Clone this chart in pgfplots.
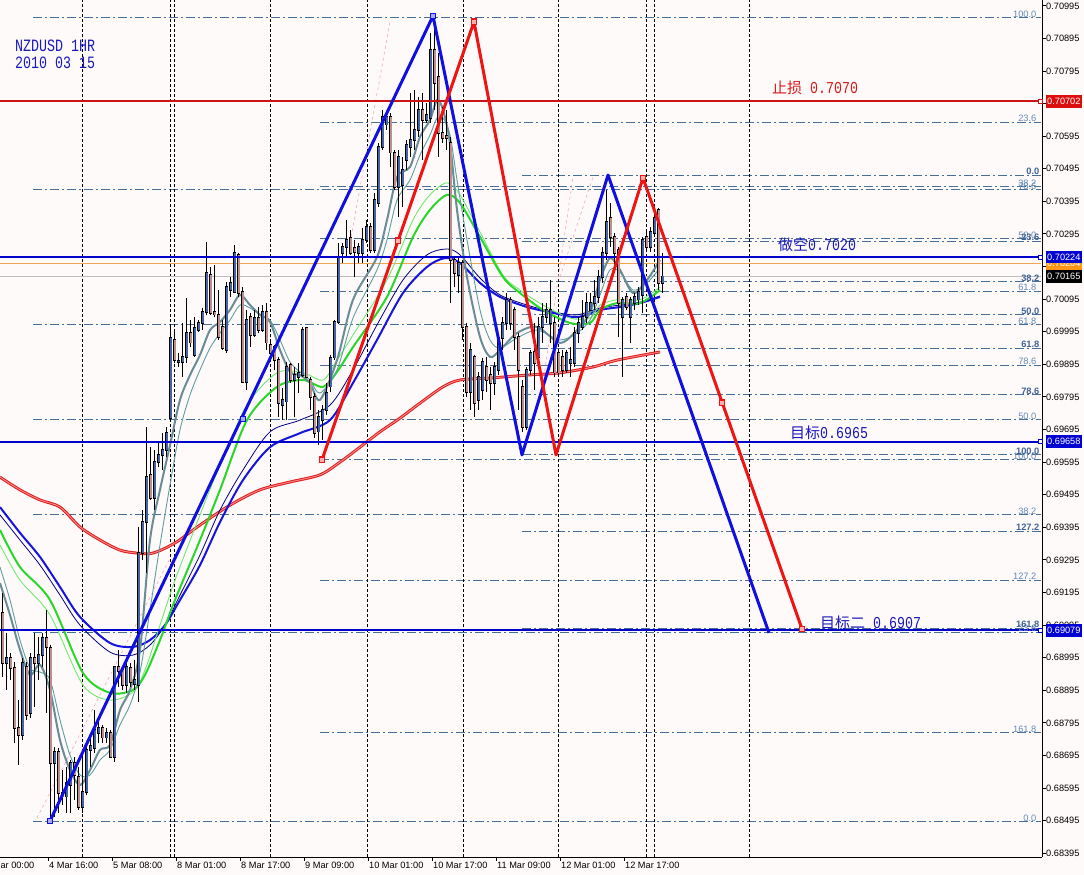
\documentclass[border=0pt]{standalone}
\usepackage{pgfplots}
\pgfplotsset{compat=1.18}
\usepackage{pgfplotstable}
\usepackage{graphicx}
\usepackage{fontspec}
\setmainfont{Liberation Sans}
\newfontfamily\cjk{Noto Sans CJK SC}
\newfontfamily\mono{Liberation Mono}

\definecolor{bgc}{RGB}{255,250,250}
\definecolor{bullc}{RGB}{70,100,160}
\definecolor{bearc}{RGB}{188,143,143}
\definecolor{hred}{RGB}{205,20,20}
\definecolor{hblue}{RGB}{0,0,205}
\definecolor{zzred}{RGB}{238,20,20}
\definecolor{zzblue}{RGB}{15,15,225}
\definecolor{mared}{RGB}{220,30,30}
\definecolor{mablue}{RGB}{20,20,220}
\definecolor{manavy}{RGB}{0,0,128}
\definecolor{magreen}{RGB}{40,215,40}
\definecolor{magreenl}{RGB}{110,235,110}
\definecolor{magray}{RGB}{105,140,150}
\definecolor{magrayl}{RGB}{95,158,160}
\definecolor{fibc}{RGB}{70,110,150}
\definecolor{fibthin}{RGB}{100,138,180}
\definecolor{fibbold}{RGB}{65,100,150}
\definecolor{orangel}{RGB}{240,165,80}
\definecolor{grayl}{RGB}{190,190,190}
\definecolor{boxred}{RGB}{220,15,15}
\definecolor{boxblue}{RGB}{0,0,210}
\definecolor{boxorange}{RGB}{255,150,20}
\definecolor{txtblue}{RGB}{25,25,190}
\definecolor{txtred}{RGB}{215,25,25}
\definecolor{pinkc}{RGB}{240,170,180}

% bullish candles: x open high low close
\pgfplotstableread{
x o h l c
6.7 0.68979 0.69071 0.68896 0.68994
22.7 0.68758 0.68994 0.68742 0.68979
30.7 0.68825 0.69009 0.68810 0.68994
38.7 0.68979 0.69058 0.68927 0.69003
42.7 0.69003 0.69071 0.68966 0.69055
54.7 0.68672 0.68721 0.68506 0.68706
66.7 0.68568 0.68660 0.68518 0.68610
70.7 0.68604 0.68681 0.68518 0.68672
82.7 0.68537 0.68712 0.68518 0.68583
86.7 0.68583 0.68721 0.68574 0.68712
90.7 0.68712 0.68764 0.68660 0.68724
94.7 0.68718 0.68834 0.68703 0.68773
98.7 0.68764 0.68804 0.68733 0.68779
106.7 0.68749 0.68779 0.68733 0.68764
114.7 0.68690 0.68966 0.68675 0.68966
126.7 0.68911 0.68988 0.68887 0.68966
134.7 0.68914 0.68988 0.68896 0.68927
138.7 0.68911 0.69396 0.68859 0.69316
142.7 0.69316 0.69448 0.69295 0.69411
146.7 0.69411 0.69703 0.69255 0.69549
154.7 0.69485 0.69632 0.69448 0.69595
158.7 0.69595 0.69654 0.69580 0.69617
162.7 0.69617 0.69684 0.69571 0.69632
166.7 0.69632 0.69703 0.69611 0.69684
170.7 0.69730 0.70010 0.69724 0.69976
178.7 0.69902 0.69930 0.69887 0.69905
182.7 0.69902 0.70022 0.69856 0.69918
186.7 0.69918 0.70099 0.69899 0.69991
194.7 0.69924 0.70040 0.69918 0.70007
198.7 0.70000 0.70031 0.69994 0.70022
202.7 0.70022 0.70068 0.70000 0.70056
206.7 0.70056 0.70271 0.70047 0.70175
226.7 0.69939 0.70148 0.69930 0.70132
230.7 0.70123 0.70163 0.70102 0.70145
234.7 0.70117 0.70261 0.70114 0.70237
246.7 0.69841 0.70062 0.69816 0.70031
254.7 0.69985 0.70062 0.69979 0.70037
262.7 0.70000 0.70077 0.69994 0.70056
282.7 0.69770 0.69823 0.69724 0.69786
286.7 0.69780 0.69902 0.69724 0.69887
294.7 0.69847 0.69887 0.69734 0.69862
298.7 0.69856 0.69899 0.69807 0.69869
302.7 0.69862 0.70010 0.69856 0.70000
318.7 0.69688 0.69755 0.69648 0.69734
322.7 0.69724 0.69770 0.69663 0.69755
326.7 0.69755 0.69838 0.69740 0.69807
330.7 0.69826 0.69924 0.69810 0.69915
334.7 0.69915 0.70031 0.69908 0.70025
338.7 0.70025 0.70267 0.70019 0.70224
342.7 0.70237 0.70267 0.70206 0.70255
346.7 0.70255 0.70338 0.70224 0.70277
358.7 0.70237 0.70267 0.70206 0.70255
362.7 0.70237 0.70313 0.70206 0.70277
366.7 0.70277 0.70338 0.70267 0.70316
374.7 0.70246 0.70421 0.70237 0.70399
378.7 0.70390 0.70574 0.70378 0.70562
382.7 0.70562 0.70676 0.70553 0.70654
386.7 0.70630 0.70666 0.70614 0.70654
398.7 0.70439 0.70553 0.70347 0.70531
402.7 0.70445 0.70531 0.70378 0.70491
406.7 0.70522 0.70583 0.70491 0.70568
410.7 0.70562 0.70728 0.70531 0.70583
414.7 0.70583 0.70737 0.70553 0.70614
418.7 0.70614 0.70715 0.70593 0.70676
426.7 0.70645 0.70697 0.70636 0.70660
430.7 0.70651 0.70912 0.70636 0.70860
458.7 0.70169 0.70221 0.70114 0.70206
470.7 0.69810 0.69961 0.69755 0.69939
478.7 0.69786 0.69872 0.69755 0.69856
482.7 0.69816 0.69915 0.69786 0.69902
494.7 0.69838 0.69902 0.69801 0.69887
498.7 0.69878 0.69991 0.69862 0.69976
502.7 0.69976 0.70040 0.69939 0.70022
506.7 0.70022 0.70114 0.70000 0.70093
526.7 0.69703 0.69887 0.69694 0.69878
530.7 0.69878 0.69939 0.69862 0.69930
538.7 0.69918 0.70040 0.69908 0.70010
542.7 0.70010 0.70083 0.69961 0.70040
546.7 0.70040 0.70083 0.70022 0.70062
550.7 0.70022 0.70154 0.69961 0.70062
566.7 0.69878 0.69939 0.69869 0.69930
570.7 0.69899 0.69948 0.69856 0.69908
574.7 0.69899 0.70010 0.69887 0.69991
578.7 0.69991 0.70040 0.69961 0.70022
582.7 0.70010 0.70093 0.70000 0.70040
586.7 0.70040 0.70114 0.70022 0.70083
590.7 0.70062 0.70114 0.70062 0.70083
594.7 0.70083 0.70154 0.70062 0.70102
598.7 0.70102 0.70185 0.70083 0.70163
602.7 0.70163 0.70255 0.70145 0.70237
606.7 0.70237 0.70430 0.70215 0.70332
622.7 0.70040 0.70102 0.69856 0.70093
630.7 0.70040 0.70102 0.69961 0.70093
634.7 0.70083 0.70114 0.70062 0.70102
638.7 0.70093 0.70132 0.70077 0.70117
642.7 0.70108 0.70286 0.70053 0.70277
650.7 0.70255 0.70316 0.70240 0.70301
654.7 0.70298 0.70378 0.70286 0.70344
662.7 0.70145 0.70237 0.70114 0.70165
}\bull

% bearish candles: x open high low close
\pgfplotstableread{
x o h l c
2.7 0.69132 0.69193 0.68936 0.68979
10.7 0.68994 0.69009 0.68927 0.68963
14.7 0.68963 0.68982 0.68733 0.68779
18.7 0.68779 0.68865 0.68666 0.68758
26.7 0.68966 0.68982 0.68804 0.68819
34.7 0.68994 0.69071 0.68844 0.68979
46.7 0.69055 0.69141 0.68825 0.69028
50.7 0.69025 0.69034 0.68491 0.68672
58.7 0.68706 0.68718 0.68518 0.68580
62.7 0.68580 0.68650 0.68543 0.68568
74.7 0.68672 0.68690 0.68558 0.68635
78.7 0.68629 0.68660 0.68528 0.68537
102.7 0.68779 0.68789 0.68733 0.68749
110.7 0.68764 0.68773 0.68687 0.68690
118.7 0.68966 0.69019 0.68905 0.68954
122.7 0.68957 0.68966 0.68896 0.68911
130.7 0.68963 0.68979 0.68905 0.68920
150.7 0.69556 0.69641 0.69479 0.69485
174.7 0.69970 0.70000 0.69899 0.69908
190.7 0.69991 0.70031 0.69948 0.69961
210.7 0.70169 0.70194 0.70047 0.70053
214.7 0.70056 0.70200 0.70040 0.70047
218.7 0.70047 0.70123 0.69970 0.69979
222.7 0.70010 0.70031 0.69939 0.69945
238.7 0.70231 0.70237 0.70102 0.70114
242.7 0.70117 0.70132 0.69838 0.69841
250.7 0.70040 0.70053 0.69948 0.69985
258.7 0.70037 0.70071 0.69991 0.70000
266.7 0.70056 0.70083 0.69939 0.69961
270.7 0.69954 0.69970 0.69918 0.69930
274.7 0.69948 0.69954 0.69878 0.69908
278.7 0.69908 0.69918 0.69734 0.69776
290.7 0.69893 0.69899 0.69838 0.69847
306.7 0.70007 0.70010 0.69853 0.69856
310.7 0.69847 0.69856 0.69755 0.69795
314.7 0.69795 0.69807 0.69669 0.69684
350.7 0.70283 0.70307 0.70231 0.70237
354.7 0.70252 0.70277 0.70163 0.70240
370.7 0.70316 0.70329 0.70237 0.70246
390.7 0.70654 0.70666 0.70501 0.70544
394.7 0.70544 0.70553 0.70430 0.70439
422.7 0.70676 0.70728 0.70522 0.70645
434.7 0.70860 0.70964 0.70676 0.70758
438.7 0.70777 0.70850 0.70531 0.70605
442.7 0.70605 0.70685 0.70574 0.70590
446.7 0.70596 0.70676 0.70553 0.70590
450.7 0.70574 0.70593 0.70083 0.70215
454.7 0.70215 0.70224 0.70132 0.70175
462.7 0.70206 0.70215 0.69970 0.70010
466.7 0.70010 0.70022 0.69795 0.69810
474.7 0.69918 0.69924 0.69734 0.69776
486.7 0.69887 0.69918 0.69810 0.69847
490.7 0.69862 0.69887 0.69755 0.69838
510.7 0.70093 0.70102 0.70000 0.70022
514.7 0.70062 0.70071 0.69939 0.69979
518.7 0.69979 0.69991 0.69755 0.69878
522.7 0.69826 0.69847 0.69688 0.69703
534.7 0.69933 0.70022 0.69816 0.69899
554.7 0.70022 0.70040 0.69856 0.69869
558.7 0.69930 0.69939 0.69862 0.69869
562.7 0.69918 0.69939 0.69856 0.69878
610.7 0.70344 0.70390 0.70255 0.70286
614.7 0.70286 0.70298 0.70194 0.70237
618.7 0.70246 0.70255 0.69979 0.70083
626.7 0.70102 0.70114 0.70062 0.70071
646.7 0.70286 0.70307 0.70246 0.70255
658.7 0.70369 0.70375 0.70123 0.70145
}\bear

\newcommand\tickfont{\fontsize{9.2bp}{11bp}\selectfont}
\newcommand\fibfont{\fontsize{9.3bp}{11bp}\selectfont}
\tikzset{fibstyle/.style={draw=fibc, line width=1bp, dash pattern=on 9bp off 3bp on 2bp off 3bp}}
\newcommand{\fibl}[2]{\addplot[fibstyle] coordinates {(#1,#2) (1041,#2)};}
\newcommand{\fibt}[2]{\node[anchor=south east, inner sep=0.4bp, text=fibthin, font=\fibfont] at (axis cs:1037,#1) {#2};}
\newcommand{\fibb}[2]{\node[anchor=south east, inner sep=0.4bp, text=fibbold, font=\fibfont\bfseries] at (axis cs:1040,#1) {#2};}
\newcommand{\vsep}[1]{\addplot[black, line width=1bp, dash pattern=on 3bp off 2bp] coordinates {(#1,0.683834) (#1,0.71013)};}
\newcommand{\pbox}[3]{\node[fill=#1, text=white, anchor=west, inner xsep=1.5bp, inner ysep=0pt, minimum height=12.5bp, font=\tickfont] at (axis cs:1045.5,#2) {#3};}
\pgfplotsset{
  wick/.style={draw=none, mark=none, error bars/.cd, y dir=minus, y explicit, error mark=none, error bar style={draw=black, solid, line width=1bp}},
  bodyout/.style={draw=none, mark=none, error bars/.cd, y dir=both, y explicit, error mark=none, error bar style={draw=black, solid, line width=3.2bp}},
  bodyin/.style={draw=none, mark=none, error bars/.cd, y dir=minus, y explicit, error mark=none, error bar style={draw=#1, solid, line width=1.6bp}},
}

\begin{document}
\begin{tikzpicture}
\fill[bgc] (0,-18bp) rectangle (1084bp,857bp);
\path[use as bounding box] (0,-18bp) rectangle (1084bp,857bp);
\begin{axis}[
  at={(0,0)}, anchor=south west,
  scale only axis, width=1042bp, height=857bp,
  xmin=0, xmax=1042, ymin=0.683834, ymax=0.71013,
  axis x line*=bottom, axis y line*=right,
  axis line style={-, black, line width=1bp},
  clip=false, scaled ticks=false,
  tick align=outside, major tick length=4bp,
  every tick/.style={black, line width=1bp},
  xtick={48.5,112.5,176.5,240.5,304.5,368.5,432.5,496.5,560.5,624.5},
  xticklabels={4 Mar 16:00,5 Mar 08:00,8 Mar 01:00,8 Mar 17:00,9 Mar 09:00,10 Mar 01:00,10 Mar 17:00,11 Mar 09:00,12 Mar 01:00,12 Mar 17:00},
  xticklabel style={anchor=north west, inner sep=0pt, xshift=0.5bp, yshift=-1bp, font=\tickfont},
  ytick={0.68395,0.68495,0.68595,0.68695,0.68795,0.68895,0.68995,0.69095,0.69195,0.69295,0.69395,0.69495,0.69595,0.69695,0.69795,0.69895,0.69995,0.70095,0.70195,0.70295,0.70395,0.70495,0.70595,0.70695,0.70795,0.70895,0.70995},
  yticklabels={0.68395,0.68495,0.68595,0.68695,0.68795,0.68895,0.68995,0.69095,0.69195,0.69295,0.69395,0.69495,0.69595,0.69695,0.69795,0.69895,0.69995,0.70095,{},0.70295,0.70395,0.70495,0.70595,{},0.70795,0.70895,0.70995},
  yticklabel style={anchor=west, inner sep=0pt, font=\tickfont},
]
% Fibonacci set B (thin)
\fibl{33}{0.68491}\fibl{33}{0.69073}\fibl{33}{0.69433}\fibl{33}{0.69725}\fibl{33}{0.70016}\fibl{33}{0.70430}\fibl{33}{0.70958}
% Fibonacci set A (thin)
\fibl{320}{0.70638}\fibl{320}{0.70440}\fibl{320}{0.70280}\fibl{320}{0.70120}\fibl{320}{0.69892}\fibl{320}{0.69602}\fibl{320}{0.69233}\fibl{320}{0.68764}
% Fibonacci set C (bold labels)
\fibl{522}{0.70476}\fibl{522}{0.70273}\fibl{522}{0.70148}\fibl{522}{0.70047}\fibl{522}{0.69945}\fibl{522}{0.69801}\fibl{522}{0.69617}\fibl{522}{0.69383}\fibl{522}{0.69086}
% separators
\vsep{82}\vsep{170.5}\vsep{174.5}\vsep{270.5}\vsep{367}\vsep{463}\vsep{558.5}\vsep{646}\vsep{654}\vsep{749.5}
% thin price lines
\addplot[orangel, line width=1bp] coordinates {(0,0.70204) (1041,0.70204)};
\addplot[grayl, line width=1bp] coordinates {(0,0.70165) (1041,0.70165)};
% faint dashed lines
\addplot[pinkc, line width=0.6bp, dashed] coordinates {(37,0.68503) (170,0.69300)};
\addplot[pinkc, line width=0.6bp, dashed] coordinates {(350,0.70267) (390,0.70946)};
\addplot[pinkc, line width=0.6bp, dashed] coordinates {(543,0.69838) (573,0.70470)};
\addplot[pinkc, line width=0.6bp, dashed] coordinates {(560,0.70163) (593,0.70470)};
% moving averages
\addplot[mared, line width=1bp, double=pink!70!red, double distance=0.9bp, smooth] coordinates {
(0,0.69549) (20,0.69510) (40,0.69479) (60,0.69457) (80,0.69396) (100,0.69356) (120,0.69325) (137,0.69316) (153,0.69316) (175,0.69347) (200,0.69402) (230,0.69463) (260,0.69510) (290,0.69534) (320,0.69556) (340,0.69595) (360,0.69641) (380,0.69688) (400,0.69730) (420,0.69776) (443,0.69826) (460,0.69847) (490,0.69853) (527,0.69862) (560,0.69869) (593,0.69887) (617,0.69908) (660,0.69933)};
\addplot[manavy, line width=0.8bp, smooth] coordinates {
(0,0.69433) (20,0.69356) (40,0.69279) (60,0.69187) (80,0.69095) (110,0.69012) (133,0.69003) (150,0.69034) (165,0.69095) (180,0.69187) (200,0.69310) (220,0.69448) (243,0.69571) (270,0.69688) (300,0.69724) (330,0.69770) (353,0.69878) (377,0.70016) (403,0.70154) (427,0.70231) (447,0.70249) (460,0.70231) (480,0.70160) (500,0.70108) (527,0.70077) (553,0.70056) (577,0.70047) (600,0.70068) (620,0.70077) (640,0.70086) (660,0.70105)};
\addplot[mablue, line width=2bp, smooth] coordinates {
(0,0.69457) (20,0.69378) (40,0.69304) (60,0.69212) (80,0.69120) (110,0.69040) (133,0.69028) (150,0.69049) (165,0.69095) (180,0.69172) (200,0.69279) (220,0.69411) (243,0.69540) (270,0.69641) (300,0.69684) (330,0.69724) (353,0.69838) (377,0.69970) (403,0.70114) (427,0.70194) (445,0.70221) (460,0.70206) (480,0.70145) (500,0.70102) (527,0.70071) (553,0.70053) (577,0.70040) (600,0.70062) (620,0.70071) (640,0.70083) (660,0.70102)};
\addplot[magreenl, line width=0.9bp, smooth] coordinates {
(0,0.69341) (20,0.69233) (50,0.69126) (83,0.68911) (110,0.68865) (133,0.68890) (145,0.68957) (160,0.69095) (175,0.69233) (200,0.69433) (220,0.69586) (247,0.69770) (277,0.69869) (303,0.69869) (323,0.69847) (337,0.69908) (353,0.69985) (387,0.70154) (413,0.70338) (430,0.70415) (447,0.70452) (460,0.70415) (480,0.70301) (503,0.70169) (520,0.70123) (543,0.70077) (570,0.70037) (590,0.70037) (600,0.70077) (617,0.70093) (640,0.70093) (660,0.70132)};
\addplot[magreen, line width=2bp, smooth] coordinates {
(0,0.69387) (20,0.69273) (50,0.69172) (83,0.68948) (110,0.68887) (133,0.68896) (145,0.68942) (160,0.69049) (175,0.69172) (200,0.69356) (220,0.69510) (247,0.69724) (277,0.69826) (303,0.69847) (323,0.69826) (337,0.69872) (353,0.69948) (387,0.70102) (413,0.70286) (430,0.70369) (447,0.70415) (460,0.70390) (480,0.70286) (503,0.70163) (520,0.70114) (543,0.70062) (570,0.70022) (590,0.70022) (600,0.70062) (617,0.70083) (640,0.70083) (660,0.70123)};
\addplot[magrayl, line width=0.9bp, smooth] coordinates {
(0,0.69273) (10,0.69172) (20,0.69049) (30,0.68963) (40,0.68951) (50,0.68927) (60,0.68804) (70,0.68696) (80,0.68635) (90,0.68635) (100,0.68681) (110,0.68712) (120,0.68789) (130,0.68850) (140,0.68951) (150,0.69141) (160,0.69341) (170,0.69525) (180,0.69694) (190,0.69801) (200,0.69878) (210,0.69945) (220,0.69991) (230,0.70031) (240,0.70077) (250,0.70068) (260,0.70047) (270,0.70031) (280,0.69970) (290,0.69902) (300,0.69872) (310,0.69847) (320,0.69807) (337,0.69878) (353,0.70037) (377,0.70185) (387,0.70277) (397,0.70399) (410,0.70461) (420,0.70537) (430,0.70599) (437,0.70651) (443,0.70651) (450,0.70599) (457,0.70461) (467,0.70277) (480,0.70062) (490,0.69970) (500,0.69945) (517,0.69976) (537,0.70000) (560,0.69970) (577,0.69991) (590,0.70031) (600,0.70108) (610,0.70185) (620,0.70178) (633,0.70123) (647,0.70145) (660,0.70191)};
\addplot[magray, line width=2bp, smooth] coordinates {
(0,0.69224) (10,0.69126) (20,0.69019) (30,0.68942) (40,0.68973) (50,0.68896) (60,0.68742) (70,0.68650) (80,0.68604) (90,0.68650) (100,0.68712) (110,0.68727) (120,0.68834) (130,0.68896) (140,0.69019) (150,0.69356) (160,0.69510) (170,0.69647) (180,0.69786) (190,0.69862) (200,0.69924) (210,0.70000) (220,0.70025) (230,0.70062) (240,0.70108) (250,0.70077) (260,0.70047) (270,0.70025) (280,0.69939) (290,0.69872) (300,0.69862) (310,0.69838) (320,0.69786) (337,0.69908) (353,0.70093) (377,0.70224) (387,0.70338) (397,0.70470) (410,0.70501) (420,0.70593) (430,0.70645) (437,0.70706) (443,0.70676) (450,0.70574) (457,0.70369) (467,0.70163) (480,0.69979) (490,0.69918) (500,0.69939) (517,0.69991) (537,0.70010) (560,0.69961) (577,0.70000) (590,0.70053) (600,0.70154) (610,0.70221) (620,0.70185) (633,0.70114) (647,0.70154) (660,0.70215)};
% candles: wicks
\addplot[wick] table[x=x, y=h, y error minus expr=\thisrow{h}-\thisrow{l}] {\bull};
\addplot[wick] table[x=x, y=h, y error minus expr=\thisrow{h}-\thisrow{l}] {\bear};
% candle bodies
\addplot[bodyout] table[x=x, y=c, y error plus expr=0.00002, y error minus expr=\thisrow{c}-\thisrow{o}+0.00002] {\bull};
\addplot[bodyin=bullc] table[x=x, y=c, y error minus expr=\thisrow{c}-\thisrow{o}] {\bull};
\addplot[bodyout] table[x=x, y=o, y error plus expr=0.00002, y error minus expr=\thisrow{o}-\thisrow{c}+0.00002] {\bear};
\addplot[bodyin=bearc] table[x=x, y=o, y error minus expr=\thisrow{o}-\thisrow{c}] {\bear};
% thick horizontal levels
\addplot[hred, line width=2bp, mark=square*, mark indices={2}, mark size=2bp, mark options={fill=white, solid, line width=1bp}] coordinates {(0,0.70702) (1040,0.70702)};
\addplot[hblue, line width=2bp, mark=square*, mark indices={2}, mark size=2bp, mark options={fill=white, solid, line width=1bp}] coordinates {(0,0.70224) (1040,0.70224)};
\addplot[hblue, line width=2bp, mark=square*, mark indices={2}, mark size=2bp, mark options={fill=white, solid, line width=1bp}] coordinates {(0,0.69658) (1040,0.69658)};
\addplot[hblue, line width=2bp, mark=square*, mark indices={2}, mark size=2bp, mark options={fill=white, solid, line width=1bp}] coordinates {(0,0.69079) (1040,0.69079)};
% zigzags
\addplot[zzblue, line width=3bp, line join=round] coordinates {(50,0.68494) (433,0.70964) (522,0.69617) (608,0.70476) (769,0.69071)};
\addplot[zzred, line width=3bp, line join=round] coordinates {(322,0.69602) (474,0.70946) (556,0.69617) (643,0.70467) (802,0.69083)};
\addplot[only marks, mark=square*, mark size=2.6bp, mark options={draw=zzblue, fill=zzblue!35!white, line width=1.5bp}] coordinates {(50,0.68494) (243,0.69727) (433,0.70964)};
\addplot[only marks, mark=square*, mark size=2.6bp, mark options={draw=zzred, fill=zzred!35!white, line width=1.5bp}] coordinates {(322,0.69602) (398,0.70274) (474,0.70946) (643,0.70467) (722,0.69777) (802,0.69083)};
% fib labels
\fibt{0.70958}{100.0}\fibt{0.70638}{23.6}\fibt{0.70440}{38.2}\fibt{0.70430}{78.6}\fibt{0.70280}{50.0}\fibt{0.70120}{61.8}\fibt{0.70016}{61.8}\fibt{0.69892}{78.6}\fibt{0.69725}{50.0}\fibt{0.69602}{100.0}\fibt{0.69433}{38.2}\fibt{0.69233}{127.2}\fibt{0.69073}{23.6}\fibt{0.68764}{161.8}\fibt{0.68491}{0.0}
\fibb{0.70476}{0.0}\fibb{0.70273}{23.6}\fibb{0.70148}{38.2}\fibb{0.70047}{50.0}\fibb{0.69945}{61.8}\fibb{0.69801}{78.6}\fibb{0.69617}{100.0}\fibb{0.69383}{127.2}\fibb{0.69086}{161.8}
% price boxes
\pbox{boxorange}{0.70204}{0.70204}
\pbox{boxblue}{0.70224}{0.70224}
\pbox{black}{0.70165}{0.70165}
\pbox{boxred}{0.70702}{0.70702}
\pbox{boxblue}{0.69658}{0.69658}
\pbox{boxblue}{0.69079}{0.69079}
% partial first date label
\node[anchor=north west, inner sep=0pt, font=\tickfont] at (axis cs:-15,0.683834) [yshift=-5bp] {4 Mar 00:00};
% texts
\node[anchor=base west, inner sep=0pt, text=txtblue] at (axis cs:15,0.70854) {\scalebox{1}[1.3]{\mono\fontsize{13.3bp}{15bp}\selectfont NZDUSD 1HR}};
\node[anchor=base west, inner sep=0pt, text=txtblue] at (axis cs:15,0.70804) {\scalebox{1}[1.3]{\mono\fontsize{13.3bp}{15bp}\selectfont 2010 03 15}};
\node[anchor=base west, inner sep=0pt, text=txtred] at (axis cs:772,0.70726) {{\cjk\fontsize{15bp}{18bp}\selectfont 止损}\scalebox{1}[1.25]{\mono\fontsize{13.3bp}{15bp}\selectfont\ 0.7070}};
\node[anchor=base west, inner sep=0pt, text=txtblue] at (axis cs:778,0.70244) {{\cjk\fontsize{15bp}{18bp}\selectfont 做空}\scalebox{1}[1.25]{\mono\fontsize{13.3bp}{15bp}\selectfont 0.7020}};
\node[anchor=base west, inner sep=0pt, text=txtblue] at (axis cs:790,0.69666) {{\cjk\fontsize{15bp}{18bp}\selectfont 目标}\scalebox{1}[1.25]{\mono\fontsize{13.3bp}{15bp}\selectfont 0.6965}};
\node[anchor=base west, inner sep=0pt, text=txtblue] at (axis cs:820,0.69086) {{\cjk\fontsize{15bp}{18bp}\selectfont 目标二}\scalebox{1}[1.25]{\mono\fontsize{13.3bp}{15bp}\selectfont\ 0.6907}};
\end{axis}
\end{tikzpicture}
\end{document}
